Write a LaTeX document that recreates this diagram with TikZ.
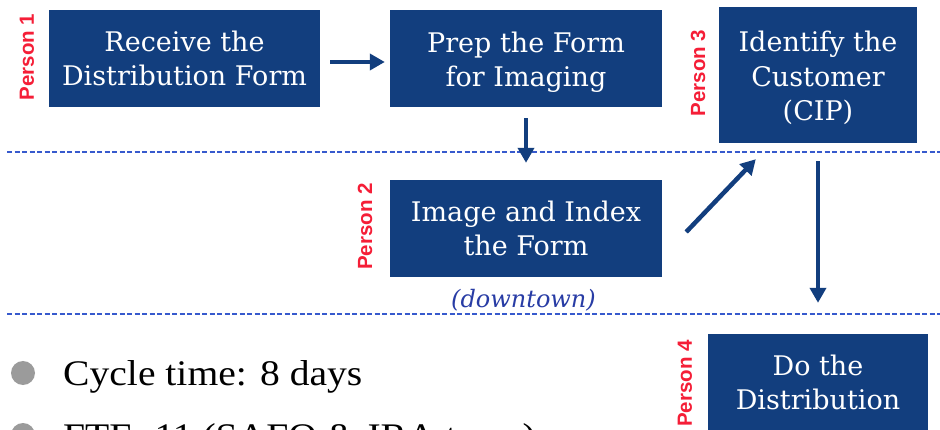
\documentclass[tikz,border=0pt]{standalone}
\usepackage{fontspec}
\usepackage{graphicx}
\usetikzlibrary{arrows.meta}
\newfontfamily\boxfont{DejaVu Serif}
\newfontfamily\personfont{Liberation Sans}
\newfontfamily\bulletfont{Liberation Serif}
\definecolor{navy}{RGB}{18,62,126}
\definecolor{pred}{RGB}{245,30,55}
\definecolor{dashblue}{RGB}{55,90,205}
\definecolor{towncol}{RGB}{40,60,165}
\definecolor{bulgray}{RGB}{155,155,155}
\begin{document}
\begin{tikzpicture}[x=1pt,y=-1pt,
  stepbox/.style={fill=navy, text=white, inner sep=0pt, align=center,
    font=\boxfont\fontsize{27}{34.5}\selectfont},
  person/.style={text=pred, rotate=90, inner sep=0pt,
    font=\personfont\bfseries\fontsize{20.5}{24}\selectfont},
  arr/.style={draw=navy, line width=4.5pt, -{Triangle[length=15pt,width=16pt]}},
  lane/.style={draw=dashblue, line width=1.1pt, dash pattern=on 5pt off 2.5pt},
  bulletdot/.style={circle, fill=bulgray, inner sep=0pt, minimum size=24pt},
  btext/.style={anchor=base west, inner sep=0pt,
    font=\bulletfont\fontsize{36}{40}\selectfont}]
\useasboundingbox (0,0) rectangle (940,430);
\clip (0,0) rectangle (940,430);
\fill[white] (0,0) rectangle (940,430);

% lane separators
\coordinate (l1a) at (7,152);
\coordinate (l1b) at (940,152);
\coordinate (l2a) at (7,314);
\coordinate (l2b) at (940,314);
\draw[lane] (l1a) -- (l1b);
\draw[lane] (l2a) -- (l2b);

% process boxes
\node[stepbox, minimum width=271pt, minimum height=97pt] (box1) at (184.5,58.5)
  {Receive the\\Distribution Form};
\node[stepbox, minimum width=272pt, minimum height=97pt] (box2) at (526,58.5)
  {\rule{0pt}{28pt}Prep the Form\\for Imaging};
\node[stepbox, minimum width=198pt, minimum height=136pt] (box3) at (818,75)
  {\rule{0pt}{27pt}Identify the\\Customer\\(CIP)};
\node[stepbox, minimum width=272pt, minimum height=97pt] (box4) at (526,228.5)
  {Image and Index\\the Form};
\node[stepbox, minimum width=220pt, minimum height=97pt] (box5) at (818,382.5)
  {Do the\\Distribution};

% person labels
\node[person] (p1) at (27,57) {Person 1};
\node[person] (p2) at (365,226.5) {Person 2};
\node[person] (p3) at (698,73) {Person 3};
\node[person] (p4) at (685,383.5) {Person 4};

% location note
\node[text=towncol, inner sep=0pt, anchor=base,
  font=\boxfont\itshape\fontsize{24}{27}\selectfont] (town) at (523.5,308) {(downtown)};

% connectors
\draw[arr, shorten <=10pt, shorten >=5pt] ([yshift=-3.5pt]box1.east) -- ([yshift=-3.5pt]box2.west);
\draw[arr, shorten <=11pt, shorten >=17pt] (box2.south) -- (box4.north);
\draw[arr] ([shift={(24,3.5)}]box4.east) -- ([shift={(37,16)}]box3.south west);
\draw[arr, shorten <=18pt, shorten >=31pt] (box3.south) -- (box5.north);

% bullets
\node[bulletdot] (d1) at (23,373) {};
\node[bulletdot] (d2) at (23,435) {};
\node[btext] (t1) at (63,385.5) {\scalebox{1.1}[1]{Cycle time: 8 days}};
\node[btext] (t2) at (63,448) {\scalebox{1.1}[1]{FTE: 11 (SAFO \& IRA team)}};
\end{tikzpicture}
\end{document}
